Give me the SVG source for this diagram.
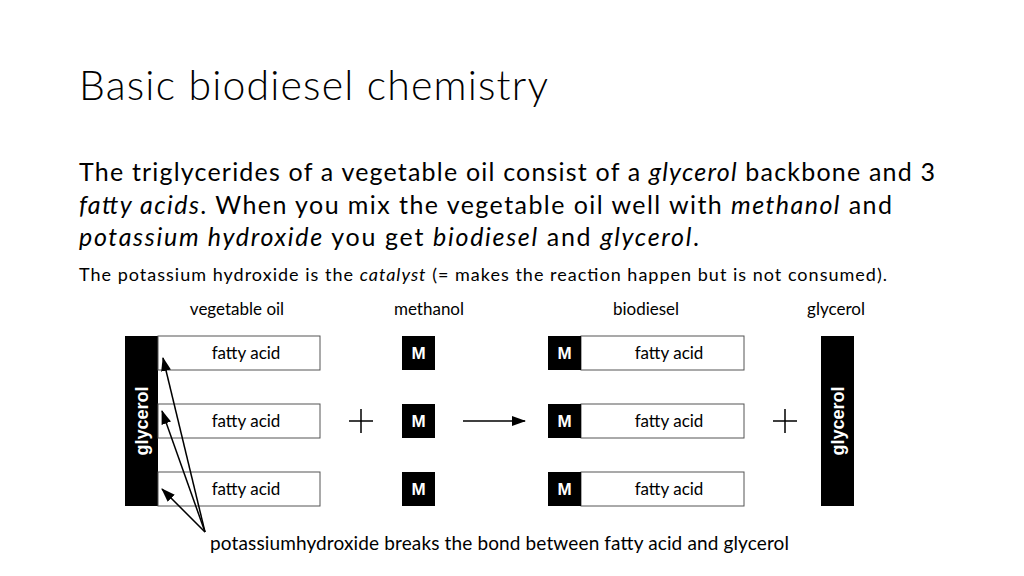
<svg xmlns="http://www.w3.org/2000/svg" width="1024" height="576" viewBox="0 0 1024 576">
<style>
text{font-family:Lato,"Open Sans",sans-serif;fill:#000}
.body{font-size:25px}
.small{font-size:18px}
.lbl{font-size:17px;text-anchor:middle}
.fa{fill:#fff;stroke:#555;stroke-width:1}
.blk{fill:#000}
.m{font-family:"Liberation Sans",sans-serif;font-weight:bold;font-size:17px;fill:#fff;text-anchor:middle}
.gl{font-family:"Liberation Sans",sans-serif;font-weight:bold;font-size:18px;fill:#fff;text-anchor:middle}
.ln{stroke:#000;stroke-width:1.5;fill:none}
</style>
<defs>
<marker id="ah" markerWidth="14" markerHeight="10" refX="13" refY="5" orient="auto" markerUnits="userSpaceOnUse"><path d="M0,0 L14,5 L0,10 Z" fill="#000"/></marker>
</defs>
<rect width="1024" height="576" fill="#fff"/>
<text x="79" y="100" style="font-size:41px;font-weight:300" textLength="469">Basic biodiesel chemistry</text>
<text class="body" x="79" y="181" textLength="856">The triglycerides of a vegetable oil consist of a <tspan font-style="italic">glycerol</tspan> backbone and 3</text>
<text class="body" x="79" y="214" textLength="813"><tspan font-style="italic">fatty acids</tspan>. When you mix the vegetable oil well with <tspan font-style="italic">methanol</tspan> and</text>
<text class="body" x="79" y="246" textLength="620"><tspan font-style="italic">potassium hydroxide</tspan> you get <tspan font-style="italic">biodiesel</tspan> and <tspan font-style="italic">glycerol</tspan>.</text>
<text class="small" x="79" y="281" textLength="808">The potassium hydroxide is the <tspan font-style="italic">catalyst</tspan> (= makes the reaction happen but is not consumed).</text>
<text class="lbl" x="237" y="315">vegetable oil</text>
<text class="lbl" x="429" y="315">methanol</text>
<text class="lbl" x="646" y="315">biodiesel</text>
<text class="lbl" x="836" y="315">glycerol</text>
<g id="oil">
<rect class="blk" x="125" y="336" width="33" height="170"/>
<text class="gl" transform="translate(148,421) rotate(-90)">glycerol</text>
<rect class="fa" x="158" y="336" width="162" height="34"/>
<rect class="fa" x="158" y="404" width="162" height="34"/>
<rect class="fa" x="158" y="472" width="162" height="34"/>
<text class="lbl" x="246" y="359">fatty acid</text>
<text class="lbl" x="246" y="427">fatty acid</text>
<text class="lbl" x="246" y="495">fatty acid</text>
</g>
<g id="methanol">
<rect class="blk" x="402" y="336" width="33" height="34"/><text class="m" x="418.5" y="359">M</text>
<rect class="blk" x="402" y="404" width="33" height="34"/><text class="m" x="418.5" y="427">M</text>
<rect class="blk" x="402" y="472" width="33" height="34"/><text class="m" x="418.5" y="495">M</text>
</g>
<g id="biodiesel">
<rect class="fa" x="581" y="336" width="163" height="34"/>
<rect class="fa" x="581" y="404" width="163" height="34"/>
<rect class="fa" x="581" y="472" width="163" height="34"/>
<rect class="blk" x="548" y="336" width="33" height="34"/><text class="m" x="564.5" y="359">M</text>
<rect class="blk" x="548" y="404" width="33" height="34"/><text class="m" x="564.5" y="427">M</text>
<rect class="blk" x="548" y="472" width="33" height="34"/><text class="m" x="564.5" y="495">M</text>
<text class="lbl" x="669" y="359">fatty acid</text>
<text class="lbl" x="669" y="427">fatty acid</text>
<text class="lbl" x="669" y="495">fatty acid</text>
</g>
<g id="glycerol">
<rect class="blk" x="821" y="336" width="33" height="170"/>
<text class="gl" transform="translate(844,421) rotate(-90)">glycerol</text>
</g>
<g id="connectors">
<path class="ln" d="M349,421 H373 M361,409 V433"/>
<path class="ln" d="M773,421 H797 M785,409 V433"/>
<line class="ln" x1="463" y1="421" x2="525" y2="421" marker-end="url(#ah)"/>
<line class="ln" x1="205" y1="532" x2="163" y2="358" marker-end="url(#ah)"/>
<line class="ln" x1="205" y1="532" x2="162" y2="411" marker-end="url(#ah)"/>
<line class="ln" x1="205" y1="532" x2="162" y2="489" marker-end="url(#ah)"/>
</g>
<text x="210" y="550" style="font-size:19px" textLength="579">potassiumhydroxide breaks the bond between fatty acid and glycerol</text>
</svg>
